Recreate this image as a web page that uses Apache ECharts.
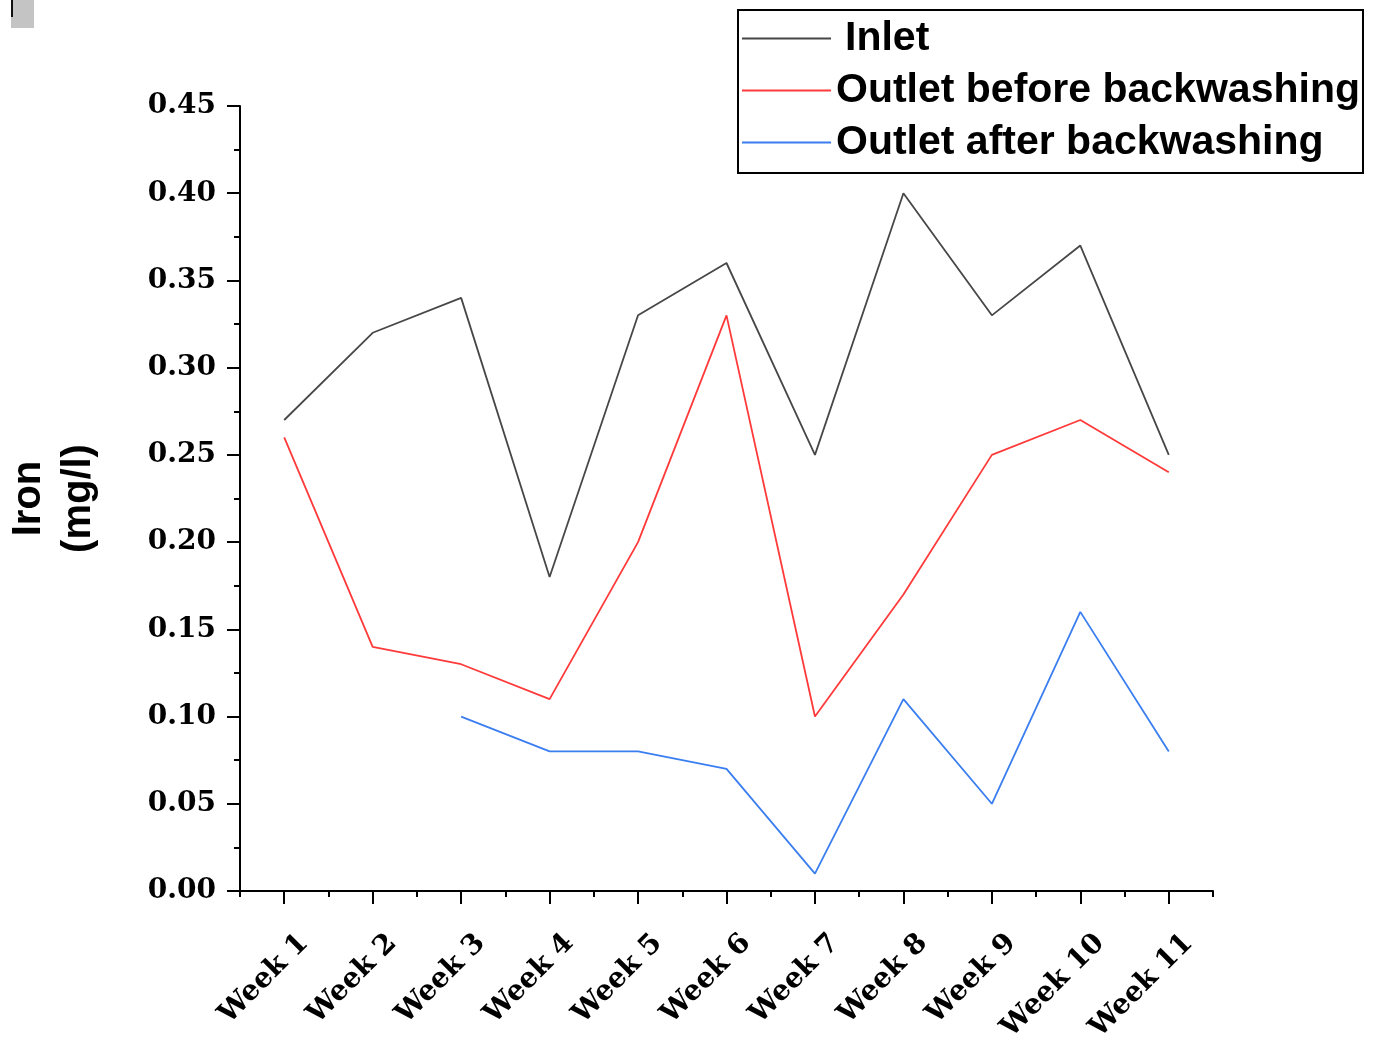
<!DOCTYPE html>
<html>
<head>
<meta charset="utf-8">
<title>Iron concentration by week</title>
<script src="https://cdn.jsdelivr.net/npm/echarts@6/dist/echarts.min.js"></script>
<style>
  html, body { margin: 0; padding: 0; background: #fff; }
  #chart { width: 1376px; height: 1042px; }
</style>
</head>
<body>
<div id="chart"></div>
<script>
// Weekly sampling points
const weeks = ['Week 1', 'Week 2', 'Week 3', 'Week 4', 'Week 5', 'Week 6',
               'Week 7', 'Week 8', 'Week 9', 'Week 10', 'Week 11'];

// Iron concentration, mg/l
const inlet = [0.27, 0.32, 0.34, 0.18, 0.33, 0.36, 0.25, 0.40, 0.33, 0.37, 0.25];
const outletBefore = [0.26, 0.14, 0.13, 0.11, 0.20, 0.33, 0.10, 0.17, 0.25, 0.27, 0.24];
const outletAfter = [null, null, 0.10, 0.08, 0.08, 0.07, 0.01, 0.11, 0.05, 0.16, 0.08];

// Y axis range and step
const yMin = 0;
const yMax = 0.45;
const yStep = 0.05;

const chart = echarts.init(document.getElementById('chart'), null, { renderer: 'canvas' });

const tickFont = {
  fontFamily: 'DejaVu Serif',
  fontWeight: 'bold',
  fontSize: 28,
  color: '#000'
};

function lineSeries(name, data, color) {
  return {
    name: name,
    type: 'line',
    data: data,
    symbol: 'none',
    xAxisIndex: 0,
    yAxisIndex: 0,
    lineStyle: { color: color, width: 1.8 },
    itemStyle: { color: color },
    emphasis: { disabled: true },
    animation: false
  };
}

chart.setOption({
  backgroundColor: '#fff',
  animation: false,
  graphic: [
    { type: 'rect', shape: { x: 11, y: 0, width: 23, height: 28 }, style: { fill: '#c4c4c4' } },
    { type: 'rect', shape: { x: 11, y: 0, width: 2, height: 17 }, style: { fill: '#111' } }
  ],
  grid: {
    left: 240, right: 163, top: 106, bottom: 151,
    containLabel: false,
    outerBoundsMode: 'none'
  },
  legend: {
    orient: 'vertical',
    left: 738,
    top: 10,
    padding: [8, 3, 10, 4],
    icon: 'rect',
    itemWidth: 89,
    itemHeight: 2,
    itemGap: 11,
    borderColor: '#000',
    borderWidth: 2,
    backgroundColor: '#fff',
    data: ['Inlet', 'Outlet before backwashing', 'Outlet after backwashing'],
    formatter: function (name) {
      return name === 'Inlet' ? '{pad|' + name + '}' : name;
    },
    textStyle: {
      fontFamily: 'Liberation Sans',
      fontWeight: 'bold',
      fontSize: 41,
      lineHeight: 40,
      color: '#000',
      rich: {
        pad: {
          fontFamily: 'Liberation Sans',
          fontWeight: 'bold',
          fontSize: 41,
          lineHeight: 40,
          color: '#000',
          padding: [0, 0, 0, 9]
        }
      }
    }
  },
  xAxis: [
    {
      type: 'category',
      data: weeks,
      position: 'bottom',
      boundaryGap: true,
      axisLine: { show: true, lineStyle: { color: '#000', width: 2 } },
      axisTick: { show: true, alignWithLabel: true, length: 13, lineStyle: { color: '#000', width: 2 } },
      axisLabel: Object.assign({
        interval: 0,
        rotate: 45,
        align: 'right',
        verticalAlign: 'top',
        lineHeight: 56,
        margin: 28
      }, tickFont),
      splitLine: { show: false }
    },
    {
      // boundary ticks between weeks
      type: 'category',
      data: weeks,
      position: 'bottom',
      boundaryGap: true,
      axisLine: { show: false },
      axisTick: { show: true, alignWithLabel: false, interval: 0, length: 6, lineStyle: { color: '#000', width: 2 } },
      axisLabel: { show: false },
      splitLine: { show: false }
    }
  ],
  yAxis: {
    type: 'value',
    min: yMin,
    max: yMax,
    interval: yStep,
    name: 'Iron\n(mg/l)',
    nameLocation: 'middle',
    nameRotate: 90,
    nameGap: 136,
    nameTextStyle: {
      fontFamily: 'Liberation Sans',
      fontWeight: 'bold',
      fontSize: 40,
      lineHeight: 50,
      color: '#000'
    },
    axisLine: { show: true, lineStyle: { color: '#000', width: 2 } },
    axisTick: { show: true, length: 13, lineStyle: { color: '#000', width: 2 } },
    minorTick: { show: true, splitNumber: 2, length: 6, lineStyle: { color: '#000', width: 2 } },
    axisLabel: Object.assign({
      margin: 24,
      formatter: function (v) { return v.toFixed(2); }
    }, tickFont),
    splitLine: { show: false },
    minorSplitLine: { show: false }
  },
  series: [
    lineSeries('Inlet', inlet, '#474747'),
    lineSeries('Outlet before backwashing', outletBefore, '#ff3a3a'),
    lineSeries('Outlet after backwashing', outletAfter, '#3a7ef0')
  ]
});
</script>
</body>
</html>
